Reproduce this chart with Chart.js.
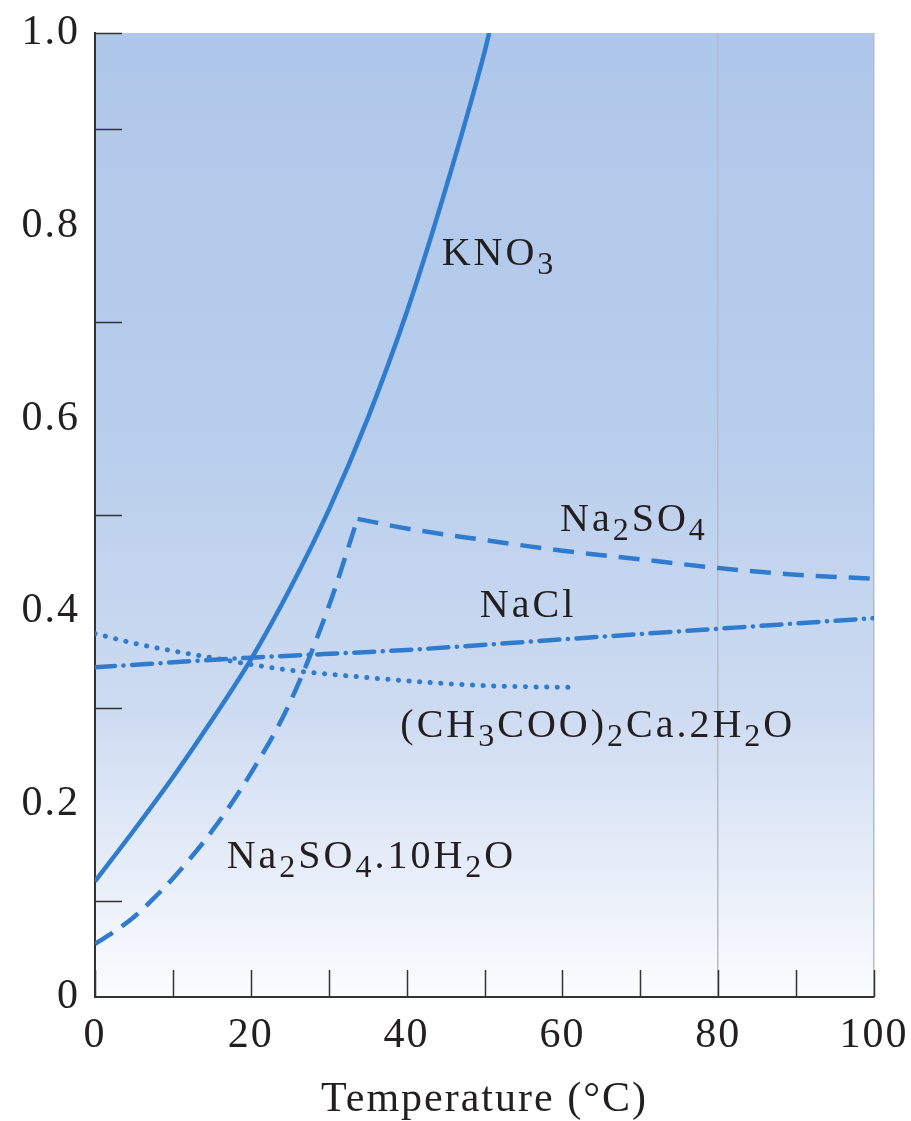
<!DOCTYPE html>
<html>
<head>
<meta charset="utf-8">
<script src="https://cdn.jsdelivr.net/npm/chart.js@4.4.0/dist/chart.umd.min.js"></script>
<style>
  html, body { margin: 0; padding: 0; background: #fff; }
  #wrap { width: 911px; height: 1121px; }
</style>
</head>
<body>
<div id="wrap"><canvas id="chart" width="911" height="1121"></canvas></div>
<script>
// Solubility curves (temperature in °C, fraction)
const kno3Temp = [0, 5, 10, 15, 20, 25, 30, 35, 40, 45, 50, 50.6];
const kno3Val = [0.12, 0.173, 0.228, 0.287, 0.350, 0.423, 0.505, 0.600, 0.710, 0.838, 0.980, 1.0];

const hydrateTemp = [0, 2.5, 5, 7.5, 10, 15, 20, 25, 30, 33.7];
const hydrateVal = [0.055, 0.068, 0.083, 0.102, 0.123, 0.172, 0.232, 0.305, 0.405, 0.496];

const sulfateTemp = [33.7, 40, 50, 60, 70, 80, 90, 100];
const sulfateVal = [0.496, 0.486, 0.474, 0.463, 0.454, 0.445, 0.438, 0.434];

const naclTemp = [0, 20, 40, 60, 80, 100];
const naclVal = [0.342, 0.352, 0.360, 0.371, 0.382, 0.393];

const acetateTemp = [0, 5, 10, 15, 20, 25, 30, 40, 50, 62];
const acetateVal = [0.377, 0.367, 0.359, 0.352, 0.345, 0.339, 0.335, 0.328, 0.323, 0.321];

const xTicks = [0, 10, 20, 30, 40, 50, 60, 70, 80, 90, 100];
const xLabels = ["0", "", "20", "", "40", "", "60", "", "80", "", "100"];
const yLabels = { 0: "0", 2: "0.2", 4: "0.4", 6: "0.6", 8: "0.8", 10: "1.0" };

// curve labels: [parts, x, y] where parts are [text, isSubscript]
const curveLabels = [
  [[["KNO", 0], ["3", 1]], 44.5, 0.759],
  [[["Na", 0], ["2", 1], ["SO", 0], ["4", 1]], 59.7, 0.483],
  [[["NaCl", 0]], 49.4, 0.394],
  [[["(CH", 0], ["3", 1], ["COO)", 0], ["2", 1], ["Ca.2H", 0], ["2", 1], ["O", 0]], 39.2, 0.270],
  [[["Na", 0], ["2", 1], ["SO", 0], ["4", 1], [".10H", 0], ["2", 1], ["O", 0]], 16.9, 0.134]
];

const lineColor = "#2f7ccf";
const textColor = "#231f20";
const serif = "'Liberation Serif', 'DejaVu Serif', serif";

function pts(xs, ys) {
  return xs.map((x, i) => ({ x: x, y: ys[i] }));
}

const bgPlugin = {
  id: "bg",
  beforeDraw(chart) {
    const { ctx, chartArea: a } = chart;
    ctx.letterSpacing = "2px";
    const g = ctx.createLinearGradient(0, a.top, 0, a.bottom);
    g.addColorStop(0, "#afc7ea");
    g.addColorStop(0.4, "#b7cdec");
    g.addColorStop(0.7, "#cddbf1");
    g.addColorStop(1, "#fbfcfe");
    ctx.fillStyle = g;
    ctx.fillRect(a.left, a.top, a.right - a.left, a.bottom - a.top);
  }
};

// inner tick marks and curve labels
const decoPlugin = {
  id: "deco",
  afterDatasetsDraw(chart) {
    const { ctx, chartArea: a, scales } = chart;
    ctx.save();
    ctx.strokeStyle = "#333";
    ctx.lineWidth = 1.5;
    ctx.beginPath();
    xTicks.forEach(t => {
      const px = Math.round(scales.x.getPixelForValue(t)) + 0.5;
      ctx.moveTo(px, a.bottom);
      ctx.lineTo(px, a.bottom - 27);
    });
    [0.1, 0.3, 0.5, 0.7, 0.9, 1.0].forEach(v => {
      const py = Math.round(scales.y.getPixelForValue(v)) + 0.5;
      ctx.moveTo(a.left, py);
      ctx.lineTo(a.left + 27, py);
    });
    ctx.stroke();

    ctx.fillStyle = textColor;
    ctx.textBaseline = "alphabetic";
    ctx.textAlign = "left";
    ctx.letterSpacing = "3px";
    curveLabels.forEach(([parts, tx, ty]) => {
      let x = scales.x.getPixelForValue(tx);
      const y = scales.y.getPixelForValue(ty);
      parts.forEach(([txt, sub]) => {
        ctx.font = (sub ? "32px " : "40px ") + serif;
        ctx.fillText(txt, x, sub ? y + 9 : y);
        x += ctx.measureText(txt).width;
      });
    });
    ctx.restore();
  }
};

function lineSet(data, dash, cap, width) {
  return {
    data: data,
    showLine: true,
    borderColor: lineColor,
    borderWidth: width || 4.5,
    borderDash: dash,
    borderCapStyle: cap,
    pointRadius: 0,
    cubicInterpolationMode: "monotone",
    fill: false
  };
}

new Chart(document.getElementById("chart"), {
  type: "scatter",
  data: {
    datasets: [
      lineSet(pts(kno3Temp, kno3Val), [], "butt"),
      lineSet(pts(hydrateTemp, hydrateVal), [21, 11], "butt"),
      lineSet(pts(sulfateTemp, sulfateVal), [21, 12], "butt"),
      lineSet(pts(naclTemp, naclVal), [20, 8.5, 0.1, 8.5], "round"),
      lineSet(pts(acetateTemp, acetateVal), [0.1, 10.5], "round", 5)
    ]
  },
  plugins: [bgPlugin, decoPlugin],
  options: {
    responsive: false,
    animation: false,
    layout: { padding: { top: 33, right: 37, left: 0, bottom: 0 } },
    plugins: { legend: { display: false }, tooltip: { enabled: false } },
    scales: {
      x: {
        type: "linear",
        min: 0,
        max: 100,
        afterBuildTicks(s) { s.ticks = xTicks.map(v => ({ value: v })); },
        afterFit(s) {
          s.height = 124;
          s.paddingLeft = 0;
          s.paddingRight = 0;
        },
        border: { color: "#333", width: 2 },
        grid: {
          drawTicks: false,
          lineWidth: 1.5,
          color: c => (c.tick && (c.tick.value === 80 || c.tick.value === 100)) ? "#b5bcc6" : "rgba(0,0,0,0)"
        },
        ticks: {
          padding: 14,
          color: textColor,
          font: { family: serif, size: 42 },
          maxRotation: 0,
          autoSkip: false,
          callback: (v, i) => xLabels[i]
        },
        title: {
          display: true,
          text: "Temperature (°C)",
          color: textColor,
          font: { family: serif, size: 42 },
          padding: { top: 0, bottom: -4 }
        }
      },
      y: {
        min: 0,
        max: 1,
        afterBuildTicks(s) {
          const t = [];
          for (let i = 0; i <= 10; i++) t.push({ value: i / 10 });
          s.ticks = t;
        },
        afterFit(s) {
          s.width = 95;
          s.paddingTop = 0;
          s.paddingBottom = 0;
        },
        border: { color: "#333", width: 2 },
        grid: { display: false, drawTicks: false },
        ticks: {
          padding: 15,
          color: textColor,
          font: { family: serif, size: 42 },
          autoSkip: false,
          callback: (v) => {
            const k = Math.round(v * 10);
            return yLabels[k] !== undefined ? yLabels[k] : "";
          }
        }
      }
    }
  }
});
</script>
</body>
</html>
